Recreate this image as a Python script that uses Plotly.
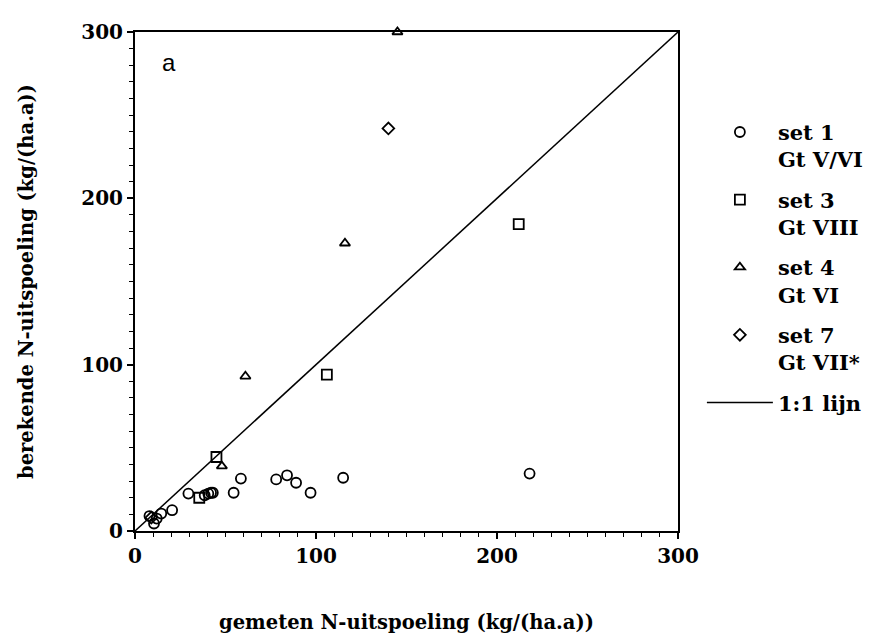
import plotly.graph_objects as go

# ---- data ----
set1_x = [8, 10.5, 12, 14.5, 20.5, 29.5, 38.5, 40.5, 42, 43, 54.5, 58.5, 78, 84, 89, 97, 115, 218]
set1_y = [9, 4.5, 7.5, 10.5, 12.5, 22.5, 21.5, 22.5, 23, 23, 23, 31.5, 31, 33.5, 29, 23, 32, 34.5]

set3_x = [35.5, 45, 106, 212]
set3_y = [20, 44.5, 94, 184.5]

set4_x = [48, 61, 116, 145]
set4_y = [39, 93, 173, 300]

set7_x = [9, 140]
set7_y = [8, 242]

line_x = [0, 300]
line_y = [0, 300]

names = ["set 1<br>Gt V/VI", "set 3<br>Gt VIII", "set 4<br>Gt VI", "set 7<br>Gt VII*", "1:1 lijn"]

SERIF = "DejaVu Serif"
fig = go.Figure()

def add_marker(x, y, sym, size, name, grp):
    fig.add_trace(go.Scatter(
        x=x, y=y, mode="markers", name=name, legendgroup=grp,
        marker=dict(symbol=sym, size=size, color="black",
                    line=dict(color="black", width=1.8)),
        cliponaxis=False,
    ))

add_marker(set1_x, set1_y, "circle-open", 10, names[0], "g1")
add_marker(set3_x, set3_y, "square-open", 10, names[1], "g3")
add_marker(set4_x, set4_y, "triangle-up-open", 9, names[2], "g4")
add_marker(set7_x, set7_y, "diamond-open", 9, names[3], "g7")

fig.add_trace(go.Scatter(
    x=line_x, y=line_y, mode="lines", name=names[4], legendgroup="gl",
    line=dict(color="black", width=1.5),
))

axis_common = dict(
    range=[0, 300], dtick=100, tick0=0,
    showgrid=False, zeroline=False,
    showline=True, linecolor="black", linewidth=2, mirror=True,
    ticks="outside", ticklen=6, tickwidth=1.5, tickcolor="black",
    tickfont=dict(family=SERIF, size=20, color="black", weight="bold"),
    minor=dict(dtick=10, ticks="outside", ticklen=4, tickwidth=1.2,
               tickcolor="black", showgrid=False),
)

fig.update_layout(
    width=873, height=634,
    margin=dict(l=127, r=202, t=20, b=108),
    paper_bgcolor="white", plot_bgcolor="white",
    showlegend=True,
    legend=dict(
        x=1.044, xanchor="left", y=0.84, yanchor="top",
        bgcolor="rgba(0,0,0,0)", borderwidth=0,
        font=dict(family=SERIF, size=21, color="black", weight="bold"),
        tracegroupgap=10, valign="top", itemwidth=66,
    ),
    xaxis=dict(
        **axis_common,
        title=dict(text="gemeten N-uitspoeling (kg/(ha.a))", standoff=48,
                   font=dict(family=SERIF, size=19.5, color="black", weight="bold")),
    ),
    yaxis=dict(
        **axis_common,
        title=dict(text="berekende N-uitspoeling (kg/(ha.a))", standoff=42,
                   font=dict(family=SERIF, size=19.5, color="black", weight="bold")),
    ),
    annotations=[dict(
        text="a", xref="paper", yref="paper", x=(152 - 127) / 544, y=(526 - 35) / 506,
        showarrow=False, font=dict(family="Liberation Sans", size=24, color="black"),
    )],
)

fig.write_html("out.html")
